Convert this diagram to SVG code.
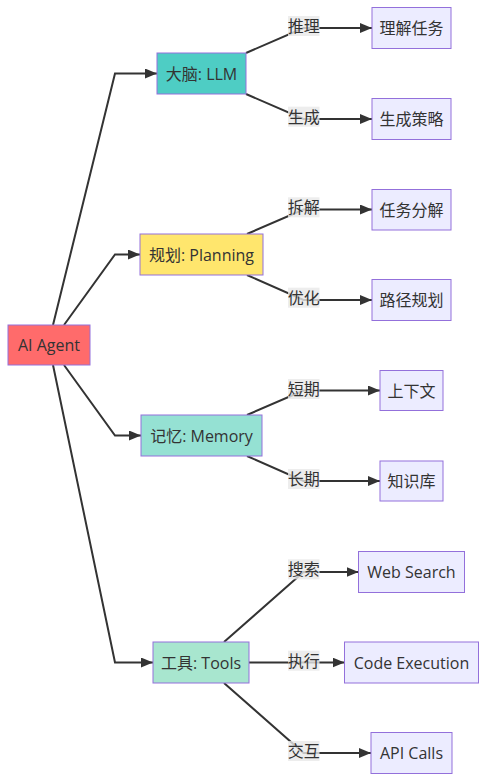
<svg xmlns="http://www.w3.org/2000/svg" width="487" height="781" viewBox="0 0 487 781">
<style>
text{font-family:"Open Sans","Noto Sans CJK SC",sans-serif;font-size:16px;fill:#333;text-anchor:middle;dominant-baseline:central}
.n{stroke:#9370DB;stroke-width:1}
.leaf{fill:#ECECFF;stroke:#9370DB;stroke-width:1}
.e{fill:none;stroke:#333;stroke-width:2;marker-end:url(#arr)}
.lb{fill:#e8e8e8;opacity:.8}
</style>
<defs>
<marker id="arr" markerUnits="userSpaceOnUse" viewBox="0 0 12 10" refX="12" refY="5" markerWidth="12" markerHeight="10" orient="auto">
<path d="M0,0 L12,5 L0,10 z" fill="#333"/>
</marker>
</defs>
<rect width="487" height="781" fill="#fff"/>
<g id="edges">
<path class="e" d="M53,325 L115,73.5 L157,73.5"/>
<path class="e" d="M64,325 L115,254.5 L140,254.5"/>
<path class="e" d="M64,365 L115,435.5 L141,435.5"/>
<path class="e" d="M53,365 L115,662.5 L153,662.5"/>
<path class="e" d="M246,53 L303.5,28 L372,28"/>
<path class="e" d="M246,94 L303.5,119 L372,119"/>
<path class="e" d="M247,234 L303.5,209.5 L372,209.5"/>
<path class="e" d="M247,275 L303.5,300 L372,300"/>
<path class="e" d="M247,415 L303.5,390.5 L380,390.5"/>
<path class="e" d="M247,456 L303.5,481 L380,481"/>
<path class="e" d="M224,642 L303.5,572 L358.5,572"/>
<path class="e" d="M249,662.5 L344.5,662.5"/>
<path class="e" d="M224,683 L303.5,753 L371,753"/>
</g>
<g id="edge-labels">
<g id="l1"><rect class="lb" x="288" y="16" width="31.5" height="20"/><text x="303.7" y="26">推理</text></g>
<g id="l2"><rect class="lb" x="288" y="106.7" width="31.5" height="20"/><text x="303.7" y="116.7">生成</text></g>
<g id="l3"><rect class="lb" x="288" y="197.3" width="31.5" height="20"/><text x="303.7" y="207.3">拆解</text></g>
<g id="l4"><rect class="lb" x="288" y="287.7" width="31.5" height="20"/><text x="303.7" y="297.7">优化</text></g>
<g id="l5"><rect class="lb" x="288" y="379" width="31.5" height="20"/><text x="303.7" y="389">短期</text></g>
<g id="l6"><rect class="lb" x="288" y="469" width="31.5" height="20"/><text x="303.7" y="479">长期</text></g>
<g id="l7"><rect class="lb" x="288" y="559.3" width="31.5" height="20"/><text x="303.7" y="569.3">搜索</text></g>
<g id="l8"><rect class="lb" x="288" y="650.7" width="31.5" height="20"/><text x="303.7" y="660.7">执行</text></g>
<g id="l9"><rect class="lb" x="288" y="741" width="31.5" height="20"/><text x="303.7" y="751">交互</text></g>
</g>
<g id="agent"><rect class="n" x="8" y="325" width="82" height="40" fill="#FF6B6B"/><text x="49" y="345">AI Agent</text></g>
<g id="brain"><rect class="n" x="157" y="53" width="89" height="41" fill="#4ECDC4"/><text x="201.5" y="73.5">大脑: LLM</text></g>
<g id="planning"><rect class="n" x="140" y="234" width="123" height="41" fill="#FFE66D"/><text x="201.5" y="254.5">规划: Planning</text></g>
<g id="memory"><rect class="n" x="141" y="415" width="121" height="41" fill="#95E1D3"/><text x="201.5" y="435.5">记忆: Memory</text></g>
<g id="tools"><rect class="n" x="153" y="642" width="96" height="41" fill="#A8E6CF"/><text x="201" y="662.5">工具: Tools</text></g>
<g id="understand"><rect class="leaf" x="372" y="7.5" width="79" height="41"/><text x="411.5" y="28">理解任务</text></g>
<g id="strategy"><rect class="leaf" x="372" y="98.5" width="79" height="41"/><text x="411.5" y="119">生成策略</text></g>
<g id="decompose"><rect class="leaf" x="372" y="189.5" width="79" height="40.5"/><text x="411.5" y="209.7">任务分解</text></g>
<g id="path"><rect class="leaf" x="372" y="279.5" width="79" height="41"/><text x="411.5" y="300">路径规划</text></g>
<g id="context"><rect class="leaf" x="380" y="370.5" width="63" height="40"/><text x="411.5" y="390.5">上下文</text></g>
<g id="kb"><rect class="leaf" x="380" y="461" width="63" height="40"/><text x="411.5" y="481">知识库</text></g>
<g id="websearch"><rect class="leaf" x="358.5" y="551.5" width="106" height="41"/><text x="411.5" y="572">Web Search</text></g>
<g id="code"><rect class="leaf" x="344.5" y="642" width="134" height="41"/><text x="411.5" y="662.5">Code Execution</text></g>
<g id="api"><rect class="leaf" x="371" y="732.5" width="81" height="41"/><text x="411.5" y="753">API Calls</text></g>
</svg>
